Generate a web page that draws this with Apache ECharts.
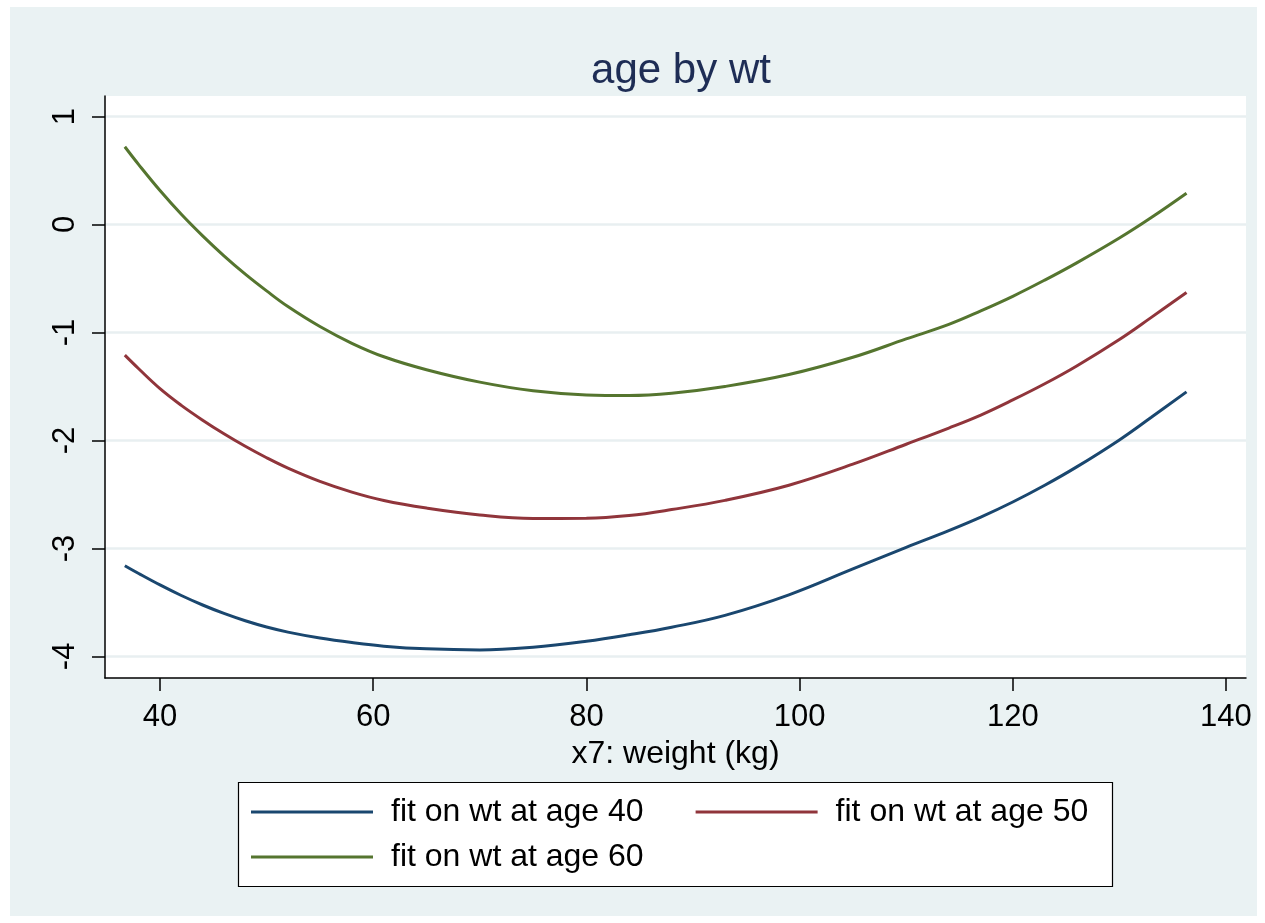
<!DOCTYPE html>
<html>
<head>
<meta charset="utf-8">
<script src="https://cdn.jsdelivr.net/npm/echarts@6/dist/echarts.min.js"></script>
<style>
  html, body { margin: 0; padding: 0; background: #ffffff; width: 1265px; height: 923px; overflow: hidden; }
  #chart { position: absolute; left: 10px; top: 7px; width: 1247px; height: 909px; }
</style>
</head>
<body>
<div id="chart"></div>
<script>
// ---- data ----
const weights = [36.7, 38, 40, 42, 44, 46, 48, 50, 52, 55, 58, 61, 65, 70, 75, 80, 84, 88, 93, 99, 105, 110, 114, 117, 120, 123, 126, 130, 133, 136.3];
const fitAge40 = [-3.16, -3.232, -3.338, -3.436, -3.524, -3.602, -3.67, -3.728, -3.775, -3.83, -3.872, -3.905, -3.93, -3.94, -3.915, -3.86, -3.80, -3.73, -3.62, -3.43, -3.19, -2.99, -2.835, -2.71, -2.57, -2.415, -2.245, -1.995, -1.785, -1.55];
const fitAge50 = [-1.21, -1.336, -1.52, -1.675, -1.812, -1.938, -2.054, -2.16, -2.256, -2.379, -2.478, -2.556, -2.626, -2.69, -2.722, -2.72, -2.695, -2.64, -2.555, -2.415, -2.22, -2.035, -1.885, -1.765, -1.625, -1.475, -1.31, -1.065, -0.86, -0.63];
const fitAge60 = [0.72, 0.555, 0.315, 0.095, -0.105, -0.29, -0.46, -0.615, -0.76, -0.945, -1.1, -1.225, -1.345, -1.46, -1.54, -1.578, -1.583, -1.562, -1.50, -1.39, -1.23, -1.06, -0.925, -0.80, -0.665, -0.515, -0.355, -0.125, 0.065, 0.29];
const seriesNames = ['fit on wt at age 40', 'fit on wt at age 50', 'fit on wt at age 60'];
const xTicks = [40, 60, 80, 100, 120, 140];
const yTicks = [-4, -3, -2, -1, 0, 1];
const titleText = 'age by wt';
const xAxisTitle = 'x7: weight (kg)';

const colors = ['#1a476f', '#90353b', '#55752f'];
const font = '"Liberation Sans", Arial, Helvetica, sans-serif';

function pairs(ys) { return weights.map((w, i) => [w, ys[i]]); }

const chart = echarts.init(document.getElementById('chart'), null, { renderer: 'canvas' });
const legendCommon = {
  orient: 'horizontal',
  padding: 0,
  icon: 'rect',
  itemWidth: 122, itemHeight: 3, itemGap: 52,
  textStyle: { fontFamily: font, fontSize: 32, color: '#000', lineHeight: 36, padding: [0, 0, 0, 13] }
};
const option = {
  backgroundColor: '#eaf2f3',
  animation: false,
  textStyle: { fontFamily: font },
  title: {
    text: titleText,
    left: 666,
    top: 38,
    textAlign: 'center',
    textStyle: { fontFamily: font, fontSize: 42, fontWeight: 'normal', color: '#1e2d55' }
  },
  grid: {
    left: 95, top: 89, width: 1141, height: 582,
    show: true, backgroundColor: '#ffffff', borderWidth: 0
  },
  xAxis: {
    type: 'value',
    min: 34.84, max: 141.88,
    name: xAxisTitle,
    nameLocation: 'middle',
    nameGap: 50,
    nameTextStyle: { fontFamily: font, fontSize: 32, color: '#000' },
    axisLine: { show: true, onZero: false, lineStyle: { color: '#000', width: 1.5 } },
    axisTick: { show: true, length: 13, lineStyle: { color: '#000', width: 1.5 }, customValues: xTicks },
    axisLabel: { fontFamily: font, fontSize: 31, color: '#000', margin: 24, customValues: xTicks },
    splitLine: { show: false }
  },
  yAxis: {
    type: 'value',
    min: -4.2, max: 1.19,
    axisLine: { show: true, onZero: false, lineStyle: { color: '#000', width: 1.5 } },
    axisTick: { show: true, length: 13, lineStyle: { color: '#000', width: 1.5 }, customValues: yTicks },
    axisLabel: { fontFamily: font, fontSize: 31, color: '#000', margin: 24, rotate: 90, customValues: yTicks },
    splitLine: { show: true, lineStyle: { color: '#e8eff1', width: 2.5 } }
  },
  graphic: [{
    type: 'rect',
    shape: { x: 228.5, y: 775.5, width: 874, height: 104 },
    style: { fill: '#ffffff', stroke: '#000000', lineWidth: 1.2 },
    z: -1
  }],
  legend: [
    Object.assign({ data: [seriesNames[0], seriesNames[1]], left: 241, top: 787 }, legendCommon),
    Object.assign({ data: [seriesNames[2]], left: 241, top: 832 }, legendCommon)
  ],
  series: [fitAge40, fitAge50, fitAge60].map((ys, i) => ({
    name: seriesNames[i],
    type: 'line',
    data: pairs(ys),
    smooth: 0.4,
    symbol: 'none',
    showSymbol: false,
    lineStyle: { color: colors[i], width: 3 },
    itemStyle: { color: colors[i] }
  }))
};
chart.setOption(option);
</script>
</body>
</html>
